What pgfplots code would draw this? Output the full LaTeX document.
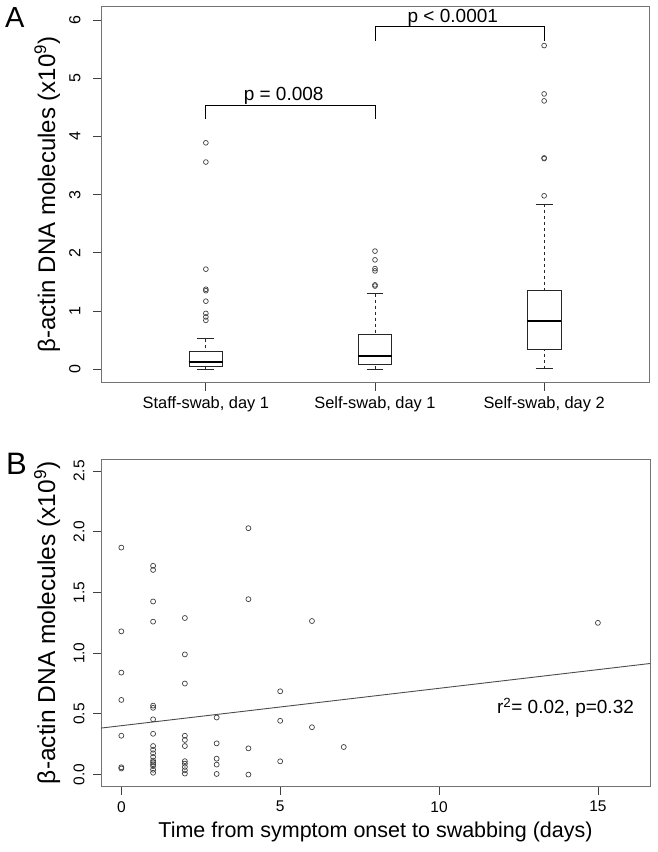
\documentclass[border=0pt]{standalone}
\usepackage{fontspec}
\setmainfont{Liberation Sans}
\usepackage{pgfplots}
\pgfplotsset{compat=1.18}
\usepgfplotslibrary{statistics}

\definecolor{framegray}{gray}{0.45}
\definecolor{boxc}{gray}{0.15}

\pgfplotsset{
  rstyle/.style={
    scale only axis,
    axis line style={framegray, line width=0.8pt},
    tick style={black!75, line width=0.8pt},
    tick align=outside,
    major tick length=8pt,
    tick pos=left,
    /pgf/number format/assume math mode=true,
    clip=false,
  },
  boxplot/draw direction=y,
  boxplot/draw/lower whisker/.code={
    \draw[/pgfplots/boxplot/every whisker/.try, dash pattern=on 3pt off 3pt]
      (boxplot box cs:\pgfplotsboxplotvalue{lower whisker},0.5) --
      (boxplot box cs:\pgfplotsboxplotvalue{lower quartile},0.5);
    \draw[/pgfplots/boxplot/every whisker/.try]
      (boxplot whisker cs:\pgfplotsboxplotvalue{lower whisker},0) --
      (boxplot whisker cs:\pgfplotsboxplotvalue{lower whisker},1);
  },
  boxplot/draw/upper whisker/.code={
    \draw[/pgfplots/boxplot/every whisker/.try, dash pattern=on 3pt off 3pt]
      (boxplot box cs:\pgfplotsboxplotvalue{upper whisker},0.5) --
      (boxplot box cs:\pgfplotsboxplotvalue{upper quartile},0.5);
    \draw[/pgfplots/boxplot/every whisker/.try]
      (boxplot whisker cs:\pgfplotsboxplotvalue{upper whisker},0) --
      (boxplot whisker cs:\pgfplotsboxplotvalue{upper whisker},1);
  },
  boxplot/every median/.style={line width=2.2pt, black},
}

\begin{document}
\begin{tikzpicture}
\useasboundingbox (0,0) rectangle (658pt,852pt);

% ---------------- Panel A ----------------
\begin{axis}[rstyle,
  at={(101pt,469.3pt)}, anchor=south west,
  width=548pt, height=376.7pt,
  xmin=0.38, xmax=3.62, ymin=-0.23, ymax=6.24,
  xtick={1,2,3},
  xticklabels={{Staff-swab, day 1},{Self-swab, day 1},{Self-swab, day 2}},
  xticklabel style={font=\fontsize{16.4}{19}\selectfont},
  xticklabel shift=2pt,
  ytick={0,1,2,3,4,5,6},
  yticklabel style={rotate=90, anchor=south, font=\fontsize{16}{18}\selectfont},
  yticklabel shift=9pt,
  ylabel={β-actin DNA molecules (x10\textsuperscript{9})},
  ylabel style={font=\fontsize{24}{28}\selectfont, at={(axis description cs:-0.098,0.5)}, anchor=center},
]
\addplot[boxc, line width=0.9pt, boxplot prepared={draw position=1,
  lower whisker=0.0, lower quartile=0.045, median=0.12,
  upper quartile=0.305, upper whisker=0.525,
  box extend=0.2, whisker extend=0.1}] coordinates {};
\addplot[boxc, line width=0.9pt, boxplot prepared={draw position=2,
  lower whisker=0.0, lower quartile=0.085, median=0.23,
  upper quartile=0.595, upper whisker=1.30,
  box extend=0.2, whisker extend=0.1}] coordinates {};
\addplot[boxc, line width=0.9pt, boxplot prepared={draw position=3,
  lower whisker=0.01, lower quartile=0.34, median=0.83,
  upper quartile=1.36, upper whisker=2.835,
  box extend=0.2, whisker extend=0.1}] coordinates {};
% outliers
\addplot[only marks, mark=o, mark size=2.4pt, black!75, mark options={line width=0.7pt}] coordinates {
  (1,3.89) (1,3.56) (1,1.72) (1,1.375) (1,1.35) (1,1.17) (1,0.96) (1,0.90) (1,0.84)
  (2,2.03) (2,1.88) (2,1.73) (2,1.69) (2,1.45) (2,1.43)
  (3,5.56) (3,4.73) (3,4.61) (3,3.63) (3,3.62) (3,2.98)
};
% significance brackets
\addplot[black, line width=1pt, mark=none] coordinates {(1,4.30) (1,4.535) (2,4.535) (2,4.30)};
\addplot[black, line width=1pt, mark=none] coordinates {(2,5.64) (2,5.89) (3,5.89) (3,5.64)};
\node[font=\fontsize{19}{22}\selectfont, anchor=base, inner sep=0pt] at (axis cs:1.46,4.62) {p = 0.008};
\node[font=\fontsize{19}{22}\selectfont, anchor=base, inner sep=0pt] at (axis cs:2.46,5.95) {p < 0.0001};
\end{axis}

% ---------------- Panel B ----------------
\begin{axis}[rstyle,
  at={(101pt,65.3pt)}, anchor=south west,
  width=549pt, height=327.7pt,
  xmin=-0.64, xmax=16.64, ymin=-0.1, ymax=2.6,
  xtick={0,5,10,15},
  xticklabel style={font=\fontsize{15.5}{18}\selectfont},
  xticklabel shift=3pt,
  ytick={0,0.5,1,1.5,2,2.5},
  yticklabel style={rotate=90, anchor=south, font=\fontsize{15.5}{18}\selectfont,
    /pgf/number format/.cd, fixed, fixed zerofill, precision=1},
  yticklabel shift=5pt,
  xlabel={Time from symptom onset to swabbing (days)},
  xlabel style={font=\fontsize{21.5}{25}\selectfont, at={(axis description cs:0.5,-0.137)}, anchor=center},
  ylabel={β-actin DNA molecules (x10\textsuperscript{9})},
  ylabel style={font=\fontsize{24.5}{28}\selectfont, at={(axis description cs:-0.098,0.5)}, anchor=center},
]
\addplot[only marks, mark=o, mark size=2.5pt, black!75, mark options={line width=0.7pt}] coordinates {
  (0,1.87) (0,1.18) (0,0.84) (0,0.615) (0,0.32) (0,0.06) (0,0.05)
  (1,1.72) (1,1.686) (1,1.426) (1,1.26) (1,0.568) (1,0.55) (1,0.455) (1,0.336)
  (1,0.235) (1,0.205) (1,0.175) (1,0.145) (1,0.115) (1,0.10) (1,0.085) (1,0.07) (1,0.04) (1,0.015)
  (2,1.29) (2,0.99) (2,0.75) (2,0.32) (2,0.285) (2,0.235) (2,0.11) (2,0.09) (2,0.063) (2,0.035) (2,0.008)
  (3,0.47) (3,0.257) (3,0.131) (3,0.082) (3,0.005)
  (4,2.03) (4,1.445) (4,0.216) (4,0.0)
  (5,0.686) (5,0.443) (5,0.109)
  (6,1.265) (6,0.39)
  (7,0.227)
  (15,1.25)
};
\addplot[black!70, line width=0.9pt, mark=none] coordinates {(-0.64,0.383) (16.64,0.915)};
\node[font=\fontsize{19}{22}\selectfont, anchor=base east, inner sep=0pt] at (axis cs:16.14,0.50) {r\textsuperscript{2}= 0.02, p=0.32};
\end{axis}

\node[font=\fontsize{29}{32}\selectfont, anchor=base west, inner sep=0pt] at (5pt,824pt) {A};
\node[font=\fontsize{31}{34}\selectfont, anchor=base west, inner sep=0pt] at (6pt,377pt) {B};
\end{tikzpicture}
\end{document}
